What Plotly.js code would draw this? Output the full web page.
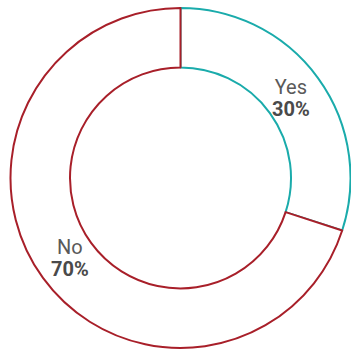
<!DOCTYPE html>
<html><head><meta charset="utf-8">
<script src="https://cdn.plot.ly/plotly-3.0.1.min.js"></script>
<style>html,body{margin:0;padding:0;background:#fff}#chart{width:351px;height:350px}</style>
</head><body><div id="chart"></div>
<script>
const labels = ["Yes", "No"];
const values = [30, 70];
const lineColors = ["#1aabab", "#a81f29"];

const W = 351, H = 350;
const margin = {l: 10, r: 0, t: 8, b: 2};
const plotW = W - margin.l - margin.r, plotH = H - margin.t - margin.b;
const R = Math.min(plotW, plotH) / 2;
const hole = 0.65;
const total = values.reduce((a, b) => a + b, 0);

const annotations = [];
let cum = 0;
values.forEach((v, i) => {
  const mid = (cum + v / 2) / total * 2 * Math.PI;
  cum += v;
  const r = R * 0.8;
  const x = 0.5 + r * Math.sin(mid) / plotW;
  const y = 0.5 + r * Math.cos(mid) / plotH;
  const pct = Math.round(v / total * 100) + "%";
  annotations.push({xref: "paper", yref: "paper", x: x, y: y, xanchor: "center", yanchor: "middle",
    text: "<span style='font-size:20px;color:#5a5a5a'>" + labels[i] + "</span><br>" +
          "<span style='font-size:20px;color:#4a4a4a'><b>" + pct + "</b></span>",
    showarrow: false,
    font: {family: "Roboto", size: 17, color: "#555555"}});
});

Plotly.newPlot("chart", [{
  type: "pie",
  labels: labels,
  values: values,
  hole: hole,
  sort: false,
  direction: "clockwise",
  rotation: 0,
  marker: {colors: ["#ffffff", "#ffffff"], line: {color: lineColors, width: 2}},
  textinfo: "none",
  showlegend: false,
  hoverinfo: "none"
}], {
  width: W, height: H,
  margin: margin,
  paper_bgcolor: "#ffffff",
  showlegend: false,
  annotations: annotations
}, {staticPlot: true});
</script></body></html>
